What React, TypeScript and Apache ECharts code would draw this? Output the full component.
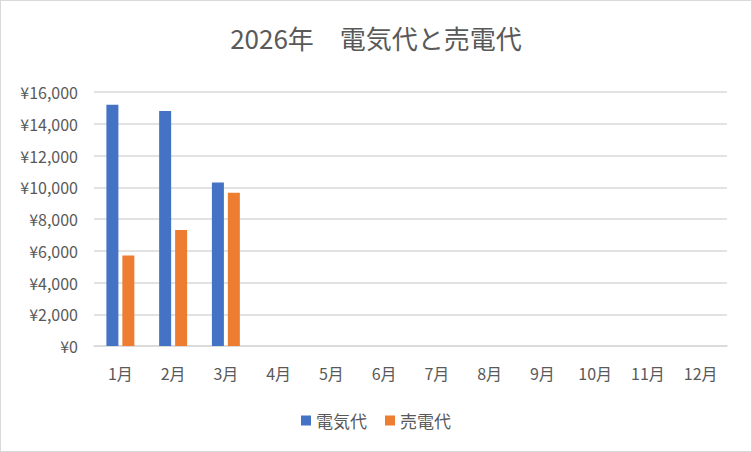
import React, { useEffect, useRef } from "react";
import * as echarts from "echarts";

const categories = ["1月", "2月", "3月", "4月", "5月", "6月", "7月", "8月", "9月", "10月", "11月", "12月"];
const electricity = [15200, 14800, 10300, null, null, null, null, null, null, null, null, null];
const sold = [5700, 7300, 9650, null, null, null, null, null, null, null, null, null];
const seriesNames = ["電気代", "売電代"];
const titleText = "2026年　電気代と売電代";

const FONT = "'Noto Sans CJK JP', 'Noto Sans', sans-serif";

export default function App() {
  const ref = useRef<HTMLDivElement>(null);
  useEffect(() => {
    document.body.style.margin = "0";
    const chart = echarts.init(ref.current!, null, { renderer: "svg" });
    chart.setOption({
      animation: false,
      backgroundColor: "#ffffff",
      textStyle: { fontFamily: FONT },
      title: {
        text: titleText,
        left: "center",
        top: 18,
        textStyle: { fontFamily: FONT, fontSize: 26, fontWeight: "normal", color: "#595959" },
      },
      legend: {
        bottom: 17,
        left: "center",
        itemWidth: 10,
        itemHeight: 10,
        itemGap: 18,
        icon: "rect",
        textStyle: { fontFamily: FONT, fontSize: 17, color: "#595959" },
        data: seriesNames,
      },
      grid: { left: 93, right: 24, top: 91, bottom: 105, containLabel: false },
      xAxis: {
        type: "category",
        data: categories,
        axisLine: { lineStyle: { color: "#d9d9d9", width: 1.5 } },
        axisTick: { show: false },
        axisLabel: { fontFamily: FONT, fontSize: 16, color: "#595959", margin: 19 },
      },
      yAxis: {
        type: "value",
        min: 0,
        max: 16000,
        interval: 2000,
        axisLine: { show: false },
        axisTick: { show: false },
        splitLine: { lineStyle: { color: "#d9d9d9", width: 1.5 } },
        axisLabel: {
          fontFamily: FONT,
          fontSize: 16,
          color: "#595959",
          margin: 16,
          formatter: (v: number) => "¥" + v.toLocaleString("en-US"),
        },
      },
      series: [
        {
          name: seriesNames[0],
          type: "bar",
          data: electricity,
          itemStyle: { color: "#4472c4" },
          barWidth: 12,
          barGap: "33%",
        },
        {
          name: seriesNames[1],
          type: "bar",
          data: sold,
          itemStyle: { color: "#ed7d31" },
          barWidth: 12,
          barGap: "33%",
        },
      ],
    });
    return () => chart.dispose();
  }, []);
  return (
    <div
      style={{
        width: 752,
        height: 452,
        boxSizing: "border-box",
        border: "1px solid #d9d9d9",
        background: "#fff",
      }}
    >
      <div ref={ref} style={{ width: 750, height: 450 }} />
    </div>
  );
}
